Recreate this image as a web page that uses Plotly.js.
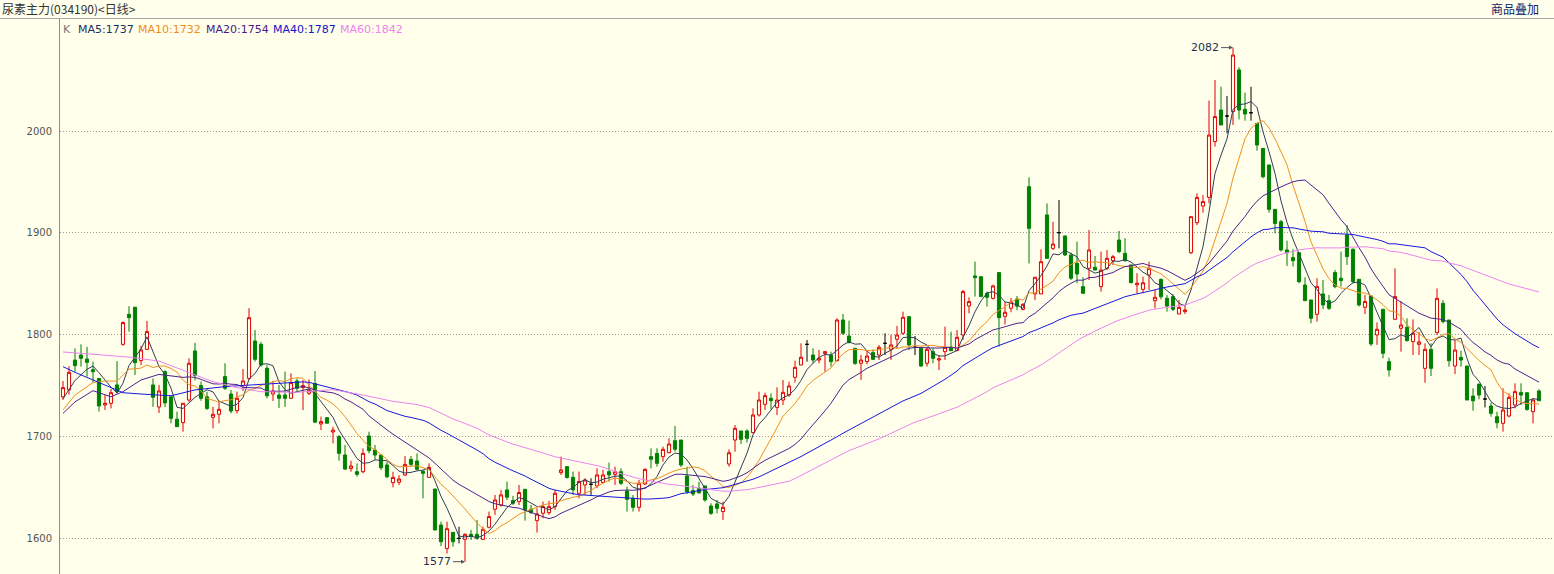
<!DOCTYPE html>
<html><head><meta charset="utf-8">
<script src="https://cdn.plot.ly/plotly-3.0.1.min.js"></script>
<style>html,body{margin:0;padding:0;background:#FFFFEB;}#chart{width:1554px;height:574px;}</style>
</head><body><div id="chart"></div>
<script>
// ---- data ----
const openP = [1739,1745.7,1775,1780,1776,1765.6,1757,1731,1732.6,1750.6,1790.5,1820,1827,1774.5,1785.6,1750.6,1729,1763.7,1739,1717,1713.6,1735.8,1784,
1750,1739,1718.8,1721.8,1758.8,1741.7,1725.4,1749.9,1757.1,1793.8,1790.5,1767,1741.7,1740.7,1740.7,1737.5,1754.5,1748,1742.4,1752,1712.3,1718.5,
1704.4,1699.8,1681.8,1668.4,1665.4,1665.4,1700.5,1686.7,1681.8,1672,1654.6,1655,1662.1,1677.5,1675.9,1666,1659.8,1648.4,1613,1590,1605.8,1599.9,1599,
1603.9,1603.9,1599,1610.8,1628.5,1632.7,1647.5,1637,1636,1648.1,1628.5,1617.3,1624.6,1625.2,1631.1,1664.5,1670.4,1659.9,1644.2,1652.4,1653,1651.4,
1654.9,1665.4,1662.8,1665.4,1646.4,1639.2,1630.4,1653.3,1680.2,1683.4,1680.2,1684.1,1695.9,1696.5,1661.2,1646.8,1649,1651.4,1631.7,1633.7,1626.2,1673,1696.5,
1705.4,1705.4,1703.8,1721.1,1731.6,1737.5,1728.6,1735.8,1740.8,1758.1,1770.2,1790.5,1780,1775.1,1781.7,1780,1774.5,1814.4,1798.7,1786.6,1771.9,1773.5,
1782.4,1780,1791.5,1785.6,1795.5,1801.4,1817.7,1787.6,1786.6,1771.9,1783.3,1775.1,1783.3,1787.6,1784.3,1799.7,1828.2,1857.7,1857,1840.6,1835.7,1861,1818,
1826,1835,1824.9,1945.4,1840,1840,1917.6,1884.8,1900.2,1897,1878.3,1870.1,1847.2,1865.2,1866.2,1847.2,1865.2,1872.7,1893,1879.9,1868.5,1849,1844.5,
1858.6,1833.4,1854.3,1835.7,1837.3,1820.3,1822.6,1880.5,1910,1926.4,1934.9,1989.6,2020.7,2014.8,2019.1,2060,2021.4,2018,2007.6,1983,1966.7,1923.1,
1911,1883.2,1875.7,1880.6,1848.8,1834.1,1820,1840,1833.4,1861,1855.4,1898,1883.9,1854.4,1826.9,1838,1799.7,1825,1773.5,1815.1,1806.3,1807.2,1793.2,
1790.5,1766.9,1785.6,1802,1830.8,1814.4,1769.2,1777.7,1769.2,1739.7,1751.5,1736.8,1729.9,1719.4,1712.9,1720.1,1730.9,1743.3,1743,1724.4,1744.7];
const highP = [1754.5,1769,1786.6,1790.5,1788,1773.5,1757,1740.7,1746.6,1774,1813,1828,1827,1789,1813.5,1757,1750.6,1765,1739,1724.4,1732.6,1776.8,1792,
1754,1744,1729,1734.9,1771.9,1745.7,1744,1766.3,1826,1804.6,1793,1770,1754.5,1750.6,1763.7,1762,1757,1755.5,1756,1764.3,1719.5,1718.5,
1709.6,1701.4,1691.6,1676.2,1673.6,1688.3,1704.7,1691.6,1681.8,1675.2,1665.4,1662,1680.8,1680.8,1683.4,1666,1673.6,1648.4,1616.3,1616.3,1605.8,1611.4,1604.8,
1608.2,1618,1611.4,1626.2,1642.6,1647.5,1655.7,1641.6,1652.4,1648.1,1632.7,1629.5,1636,1636.7,1647.5,1680.2,1670.4,1665.5,1665.5,1658.9,1658.9,1668.8,
1667.1,1674.3,1670.3,1668.7,1650.7,1642.5,1657.3,1668.7,1688.4,1688.4,1690,1698.2,1710.3,1696.5,1670.3,1652.3,1655.6,1651.4,1634.3,1637.6,1636,1687.4,1711.3,
1705.4,1707,1727.7,1744,1743,1742.4,1748.3,1755.5,1753.9,1774.5,1791.5,1794.8,1786.6,1785,1783.3,1783.3,1816,1820.3,1813.8,1786.6,1780,1784,
1785.6,1789.9,1801.4,1799.7,1808.6,1822.6,1817.7,1798.7,1786.6,1788,1786.6,1780,1807.9,1803,1804.6,1843.9,1836.7,1871.8,1857,1842.3,1849,1861,1832,
1836,1838,1831,1954.6,1856.4,1883.9,1929,1911,1932.3,1897,1880.6,1891.4,1856.4,1902.8,1877.3,1881.6,1883.2,1878.3,1901.9,1894.7,1868.5,1860.3,1857,
1871.7,1843.9,1855.3,1838.9,1840,1834,1828,1915.9,1938.8,1937.2,2029.9,2050.2,2043.6,2034.5,2082,2062.6,2037.7,2043.6,2007.6,1983,1966.7,1923.1,
1912.7,1892.4,1883.9,1880.6,1856.4,1834.1,1855.4,1853.7,1839,1863.6,1881.6,1907.8,1884.8,1854.4,1839,1838,1812,1825,1777.4,1865.2,1833.1,1816.1,1815,
1802.9,1791.5,1791.5,1845.5,1834,1814.4,1794.7,1784.3,1769.2,1747.3,1751.5,1749.6,1733.2,1724.3,1747.3,1742.4,1752.2,1752.2,1743,1737.4,1746.3];
const lowP = [1736,1741,1763.7,1768.6,1758.8,1753,1724.4,1726,1727.6,1742.4,1789,1803,1760.4,1770,1785,1729,1723,1729,1713,1709.6,1704.7,1734,1755,
1735,1726,1708,1713,1745.7,1722.7,1722.7,1744.7,1755.5,1773.5,1768.6,1737.5,1734.9,1728,1729,1737.5,1744,1726,1740.7,1714,1706.4,1713,
1693.3,1676.2,1667,1665.4,1660.5,1663.8,1683.4,1676.9,1667,1658.9,1650,1652.3,1661.2,1670.3,1667,1639.2,1659.8,1608.1,1592.4,1585,1591.7,1595,1577,
1598.4,1598.4,1598.4,1609.8,1622.9,1631.1,1637.6,1632.7,1632.7,1617.3,1623.9,1605.6,1619.6,1622.9,1627.8,1662.2,1658.9,1642.6,1639.3,1642.6,1642.6,1649.1,
1654,1655.6,1652.4,1652.3,1626.2,1626.2,1626.2,1652.3,1668.7,1670.3,1675.2,1683.4,1685.1,1670,1643.5,1641.5,1643.5,1636,1622.9,1624.5,1618,1670.3,1685,
1692.6,1694,1703.1,1719.5,1726,1726.7,1721.1,1730.9,1739.1,1752.9,1770.2,1773.5,1771.9,1771.9,1763.7,1768.6,1773.5,1799.7,1791.5,1770.2,1755.5,1771,
1775.1,1775.1,1780,1775.1,1786.6,1799.7,1785,1780,1768.6,1768.6,1771.9,1765.3,1775.1,1784.3,1784.3,1794.8,1821,1837.4,1837.4,1827.5,1834.5,1788.3,1810,
1822,1824,1824,1870,1834,1840,1875,1883.2,1884.8,1877.3,1853.7,1850.5,1840.6,1853.7,1863.5,1842.3,1863.5,1868.5,1880,1871.7,1850.5,1840.6,1840.6,
1843.9,1825.8,1834.7,1822.6,1823.3,1820.3,1820.3,1879.2,1907.7,1919.8,1929,1984.7,2006,1997.8,2006,2011.5,2010.2,2010.2,1980.7,1953.5,1919.8,1899.5,
1881.6,1867.5,1866.9,1850.5,1833.4,1811.2,1812.8,1825,1824.3,1845.6,1847.2,1868.5,1850.5,1827.6,1820.3,1788.9,1790,1776.8,1758.8,1815.1,1783.3,1793.2,1780,
1780,1752.8,1759.4,1799.7,1811,1768.5,1761.3,1768.5,1735.8,1725.3,1736.5,1728.6,1719.4,1708,1704.7,1718.8,1727.6,1730.9,1725.3,1712.9,1735.1];
const closeP = [1748,1763,1769.6,1776.8,1772.8,1763.7,1730,1732.6,1743,1744,1812,1816.7,1772.5,1785,1803,1738.5,1744.7,1733,1717.8,1709.6,1732.6,1771.9,1760,
1737.5,1727.6,1721.8,1726.7,1747.3,1725,1737.5,1754.5,1816.7,1775.8,1770.2,1740,1744.7,1737.5,1737.5,1752.9,1747.3,1750,1745.7,1714,1714.6,1713,
1706.3,1683.4,1668,1671,1662.8,1683.4,1686,1681.8,1669.3,1660.5,1659.8,1658.2,1672.6,1672.6,1667.7,1663.8,1669.7,1608.1,1596.6,1609.4,1596.6,1599.9,1603.9,
1601.6,1600,1608.8,1621.3,1637.6,1642.6,1640.3,1634.4,1644.9,1627.8,1625.2,1623.9,1631.1,1631.1,1644.2,1667.1,1659.6,1647.5,1655.7,1657.3,1653,1662.2,
1662.2,1662.2,1665.4,1654,1638.3,1630.4,1654,1667.7,1677.6,1673.6,1687.4,1692.6,1687.4,1672,1645.8,1643.5,1644.8,1637.6,1624.5,1629.4,1630.4,1684,1708,
1697.2,1698.2,1721.1,1735.8,1740.1,1735.2,1735.8,1743.4,1749.6,1767.9,1777.8,1790.5,1775.1,1776.8,1783.3,1773.5,1814.4,1801.4,1792.2,1771.9,1775.1,1779,
1775.8,1787.6,1791.5,1789.9,1799.7,1817.1,1789.9,1787.6,1769.2,1785.6,1776.8,1776.2,1787.6,1784.3,1797.4,1842.3,1832.5,1856,1837.4,1836.7,1847.9,1816.7,1822,
1832,1828,1829.8,1904.5,1856.4,1871.7,1875,1889,1900.2,1878.3,1855.4,1859.6,1840.6,1883.2,1863.5,1863.5,1875,1876.6,1881.6,1872.7,1851.1,1850.5,1851,
1865.2,1836.7,1837.3,1828.1,1824.9,1826.8,1824.2,1915.9,1934.9,1930.7,1996.1,2014.2,2006,2014.8,2074.7,2020.7,2016.8,2018,1986.3,1955.2,1923.1,1909.3,
1883.2,1880.6,1872.7,1852.1,1833.4,1816.1,1847.2,1829.2,1825.9,1847.2,1853.1,1876.7,1852.1,1829.2,1832.5,1790.9,1805.3,1781.7,1765.3,1837.4,1809.5,1794.2,1801.4,
1792.8,1785.6,1766.9,1835.7,1812.8,1774.4,1784.9,1775.1,1735.8,1735.1,1740.7,1736.8,1722.7,1713.5,1726,1738.4,1744,1740.7,1726.6,1735.8,1735.1];

// Moving-average values for the first days, before a full window exists
// (index -> value; unread positions are left empty)
const ma5Head  = {0: 1737, 2: 1755};
const ma10Head = {0: 1726, 2: 1740.7, 5: 1753, 7: 1754.5};
const ma20Head = {0: 1722.7, 2: 1734, 5: 1745, 8: 1739, 10: 1744, 13: 1755.5, 16: 1761};
const ma40Head = {0: 1768.6, 2: 1763, 5: 1755.5, 10: 1743, 13: 1741.7, 18: 1740, 22: 1745.7, 27: 1749, 33: 1751.2};
const ma60Head = {0: 1783, 5: 1781, 11: 1778, 16: 1774, 22: 1760.4, 25: 1753.8, 29: 1748, 33: 1744, 39: 1743.4, 45: 1746, 50: 1740.7, 55: 1734.5};

const maPeriods = [5, 10, 20, 40, 60];
const maHeads = [ma5Head, ma10Head, ma20Head, ma40Head, ma60Head];
const maLabels = ['MA5:1737', 'MA10:1732', 'MA20:1754', 'MA40:1787', 'MA60:1842'];
const titleText = '尿素主力(034190)<日线>';
const overlayText = '商品叠加';
const peakLabel = '2082';
const troughLabel = '1577';
const yTicks = [1600, 1700, 1800, 1900, 2000];

// ---- styling ----
const BG = '#FFFFEB';
const maColors = ['#2E3D5A', '#F0901E', '#4E2190', '#1818E0', '#EE82EE'];
const legendColors = ['#1F3060', '#F08C1C', '#4A1A88', '#1414C8', '#EE82EE'];
const W = 1554, H = 574, ML = 60, MT = 19;
const px = x => (x - ML) / (W - ML);
const py = y => (H - y) / (H - MT);

const n = closeP.length;
const xs = closeP.map((_, i) => i);

function ma(p, head) {
  const out = [];
  for (let i = 0; i < n; i++) {
    if (i < p - 1) { out.push(head[i] !== undefined ? head[i] : null); continue; }
    let sum = 0;
    for (let j = i - p + 1; j <= i; j++) sum += closeP[j];
    out.push(sum / p);
  }
  return out;
}

const groups = {up: [], down: [], doji: []};
for (let i = 0; i < n; i++) {
  if (closeP[i] > openP[i]) groups.up.push(i);
  else if (closeP[i] < openP[i]) groups.down.push(i);
  else groups.doji.push(i);
}
function candle(idx, lineCol, fillCol) {
  return {
    type: 'candlestick',
    x: idx.map(i => xs[i]), open: idx.map(i => openP[i]), high: idx.map(i => highP[i]),
    low: idx.map(i => lowP[i]), close: idx.map(i => closeP[i]),
    increasing: {line: {color: lineCol, width: 1}, fillcolor: fillCol},
    decreasing: {line: {color: lineCol, width: 1}, fillcolor: fillCol},
    whiskerwidth: 0, showlegend: false, hoverinfo: 'skip'
  };
}
const traces = [];
maPeriods.forEach((p, k) => {
  traces.push({type: 'scatter', mode: 'lines', x: xs, y: ma(p, maHeads[k]), connectgaps: true,
    line: {color: maColors[k], width: 1}, showlegend: false, hoverinfo: 'skip'});
});
traces.push(candle(groups.down, '#008000', '#008000'));
traces.push(candle(groups.up, '#E00000', BG));
traces.push(candle(groups.doji, '#000000', '#000000'));

const annotations = [
  {text: titleText, xref: 'paper', yref: 'paper', x: px(0), y: py(9), xanchor: 'left', yanchor: 'middle',
   showarrow: false, font: {family: 'Noto Sans CJK SC', size: 12, color: '#333333'}},
  {text: overlayText, xref: 'paper', yref: 'paper', x: px(1541), y: py(9), xanchor: 'right', yanchor: 'middle',
   showarrow: false, font: {family: 'Noto Sans CJK SC', size: 12, color: '#10206A'}},
  {text: 'K', xref: 'paper', yref: 'paper', x: px(61), y: py(29), xanchor: 'left', yanchor: 'middle',
   showarrow: false, font: {family: 'DejaVu Sans', size: 11, color: '#777777'}}
];
const legendX = [76, 136, 204, 271, 338];
maLabels.forEach((t, k) => annotations.push({text: t, xref: 'paper', yref: 'paper', x: px(legendX[k]), y: py(29),
  xanchor: 'left', yanchor: 'middle', showarrow: false, font: {family: 'DejaVu Sans', size: 11, color: legendColors[k]}}));

const peakIdx = highP.indexOf(Math.max(...highP));
const troughIdx = lowP.indexOf(Math.min(...lowP));
annotations.push({text: peakLabel, x: xs[peakIdx], y: highP[peakIdx], xref: 'x', yref: 'y', showarrow: true,
  ax: -12, ay: 0, xanchor: 'right', arrowhead: 2, arrowsize: 0.8, arrowwidth: 1, arrowcolor: '#555555',
  font: {family: 'DejaVu Sans', size: 11, color: '#1F2F50'}});
annotations.push({text: troughLabel, x: xs[troughIdx], y: lowP[troughIdx], xref: 'x', yref: 'y', showarrow: true,
  ax: -12, ay: 0, xanchor: 'right', arrowhead: 2, arrowsize: 0.8, arrowwidth: 1, arrowcolor: '#555555',
  font: {family: 'DejaVu Sans', size: 11, color: '#1F2F50'}});

const layout = {
  width: W, height: H,
  margin: {l: ML, r: 0, t: MT, b: 0, pad: 0},
  paper_bgcolor: BG, plot_bgcolor: BG,
  showlegend: false, boxgap: 0.25,
  xaxis: {range: [-0.5, 248.5], showgrid: false, zeroline: false, showticklabels: false, ticks: '',
          rangeslider: {visible: false}, fixedrange: true},
  yaxis: {range: [1564.9, 2110.1], tickvals: yTicks, ticktext: yTicks.map(String), ticks: '',
          showgrid: true, gridcolor: '#9A9A9A', griddash: '1px,2px', gridwidth: 1, zeroline: false,
          showline: true, linecolor: '#8C8C8C', linewidth: 1, ticklabelstandoff: 5,
          tickfont: {family: 'DejaVu Sans', size: 10, color: '#555555'}, fixedrange: true},
  shapes: [
    {type: 'line', xref: 'paper', yref: 'paper', x0: px(0), x1: 1, y0: py(18.5), y1: py(18.5),
     line: {color: '#A8A8A8', width: 1}}
  ],
  annotations: annotations
};
Plotly.newPlot('chart', traces, layout, {staticPlot: true, displayModeBar: false});
</script>
</body></html>
